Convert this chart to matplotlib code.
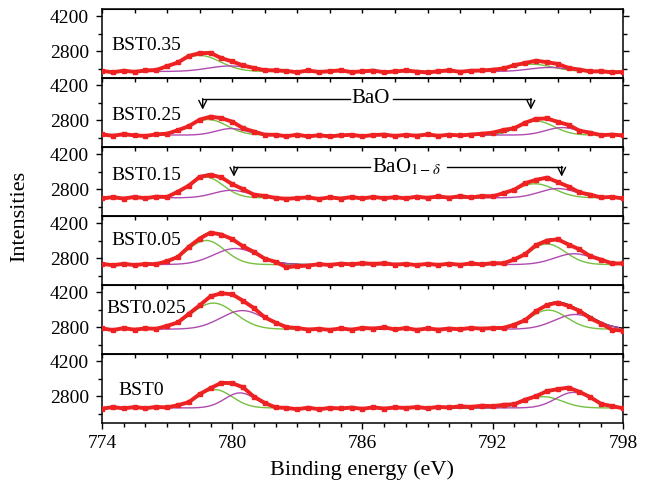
import numpy as np
import matplotlib.pyplot as plt
from matplotlib.ticker import MultipleLocator, NullFormatter

plt.rcParams['font.family'] = ['Liberation Serif', 'DejaVu Serif']
plt.rcParams['mathtext.fontset'] = 'stix'

# --- Data (Ba 3d spectra) ---
labels = ['BST0.35', 'BST0.25', 'BST0.15', 'BST0.05', 'BST0.025', 'BST0']
energy = np.arange(774, 798.01, 0.5)

counts = [
    [2010, 1960, 2020, 1975, 2030, 2050, 2200, 2350, 2610, 2720, 2730, 2520, 2390, 2230, 2130, 2040, 2035,
     2010, 1960, 2030, 1970, 2000, 2035, 1965, 1995, 2025, 1960, 1990, 2030, 1985, 1950, 2000, 2035, 1975,
     2020, 2030, 2060, 2110, 2240, 2330, 2420, 2360, 2290, 2130, 2065, 1990, 2000, 1955, 1970],
    [2230, 2180, 2240, 2195, 2170, 2235, 2260, 2400, 2560, 2820, 2940, 2880, 2740, 2480, 2345, 2220, 2215,
     2160, 2220, 2150, 2200, 2150, 2195, 2215, 2160, 2205, 2225, 2170, 2215, 2180, 2230, 2175, 2220, 2190,
     2225, 2260, 2300, 2410, 2480, 2700, 2850, 2870, 2730, 2610, 2380, 2300, 2200, 2225, 2190],
    [2430, 2480, 2425, 2490, 2440, 2500, 2490, 2700, 2940, 3290, 3370, 3270, 3000, 2800, 2580, 2530, 2450,
     2415, 2445, 2470, 2410, 2475, 2425, 2485, 2430, 2490, 2440, 2480, 2435, 2500, 2455, 2510, 2460, 2520,
     2470, 2525, 2515, 2640, 2780, 3040, 3170, 3260, 3080, 2900, 2670, 2580, 2470, 2490, 2430],
    [2570, 2520, 2575, 2525, 2570, 2560, 2680, 2850, 3250, 3580, 3820, 3740, 3560, 3270, 3050, 2780, 2650,
     2440, 2480, 2505, 2560, 2530, 2580, 2555, 2600, 2570, 2595, 2545, 2570, 2525, 2575, 2530, 2580, 2535,
     2590, 2550, 2600, 2595, 2750, 2960, 3320, 3500, 3550, 3340, 3150, 2880, 2740, 2590, 2590],
    [2750, 2685, 2760, 2700, 2750, 2735, 2850, 2990, 3330, 3670, 4030, 4150, 4110, 3850, 3560, 3190, 2980,
     2800, 2765, 2705, 2735, 2690, 2750, 2700, 2770, 2745, 2790, 2710, 2765, 2690, 2750, 2700, 2745, 2715,
     2770, 2740, 2765, 2770, 2900, 3080, 3440, 3680, 3780, 3640, 3450, 3150, 2940, 2700, 2660],
    [2305, 2360, 2315, 2365, 2320, 2370, 2350, 2440, 2560, 2880, 3120, 3330, 3320, 3150, 2780, 2530, 2350,
     2330, 2280, 2340, 2280, 2330, 2310, 2345, 2295, 2355, 2305, 2350, 2330, 2365, 2320, 2370, 2350, 2395,
     2370, 2420, 2400, 2455, 2480, 2660, 2800, 3000, 3080, 3140, 2970, 2760, 2490, 2400, 2320],
]

# fitted components: (centre eV, height, sigma eV)
baseline = [1990, 2205, 2455, 2545, 2720, 2330]
green_52 = [(778.5, 640, 0.95), (778.9, 620, 0.85), (778.8, 820, 0.78),
            (778.8, 960, 0.85), (779.13, 1040, 1.0), (779.2, 730, 0.8)]
purple_52 = [(779.9, 220, 1.0), (779.95, 260, 0.7), (779.95, 300, 0.8),
             (780.15, 640, 1.0), (780.47, 740, 1.0), (780.36, 600, 0.7)]
green_32 = [(793.8, 290, 0.95), (794.0, 560, 0.82), (793.95, 560, 0.9),
            (794.5, 820, 0.85), (794.57, 760, 0.85), (794.34, 450, 0.85)]
purple_32 = [(794.6, 160, 0.9), (795.2, 300, 0.75), (795.0, 370, 0.85),
             (795.75, 430, 0.9), (795.8, 585, 0.95), (795.72, 620, 0.8)]


def gauss(x, p):
    c, a, s = p
    return a * np.exp(-(x - c) ** 2 / (2 * s ** 2))


# --- Plotting ---
red, green, purple = '#ee2222', '#77c040', '#b04ab0'
fig = plt.figure(figsize=(6.55, 4.87), dpi=100)
gs = fig.add_gridspec(6, 1, left=0.1557, right=0.951, top=0.9815, bottom=0.1314, hspace=0)
axes = [fig.add_subplot(gs[i]) for i in range(6)]

label_pos = [(0.019, 0.47), (0.019, 0.45), (0.019, 0.585), (0.019, 0.64), (0.008, 0.66), (0.031, 0.47)]
xf = np.linspace(774, 798, 961)
win_a = (xf >= 775.5) & (xf <= 783.0)
win_b = (xf >= 791.0) & (xf <= 797.8)

for i, ax in enumerate(axes):
    b = baseline[i]
    total = b + gauss(xf, green_52[i]) + gauss(xf, purple_52[i]) + gauss(xf, green_32[i]) + gauss(xf, purple_32[i])
    ax.plot(xf, total, color='black', lw=1.0, zorder=2)
    for win, gp, pp in [(win_a, green_52[i], purple_52[i]), (win_b, green_32[i], purple_32[i])]:
        ax.plot(xf[win], b + gauss(xf[win], gp), color=green, lw=1.0, zorder=3)
        ax.plot(xf[win], b + gauss(xf[win], pp), color=purple, lw=1.0, zorder=3)
    ax.plot(energy, counts[i], color=red, lw=2.8, marker='s', ms=3.2, mec=red, zorder=4)

    ax.set_xlim(774, 798)
    ax.set_ylim(1730, 4480)
    ax.yaxis.set_major_locator(MultipleLocator(1400))
    ax.yaxis.set_minor_locator(MultipleLocator(700))
    ax.tick_params(axis='y', which='major', direction='out', length=4.5, width=1, labelsize=14, pad=5,
                   right=True)
    ax.tick_params(axis='y', which='minor', direction='out', length=3, width=1, right=True)
    for sp in ax.spines.values():
        sp.set_linewidth(1.1)

    top = ax.secondary_xaxis('top')
    top.xaxis.set_major_locator(MultipleLocator(1.5))
    top.xaxis.set_major_formatter(NullFormatter())
    top.tick_params(direction='in', length=3, width=1)

    if i < 5:
        ax.tick_params(axis='x', which='both', bottom=False, labelbottom=False)
    else:
        ax.xaxis.set_major_locator(MultipleLocator(6))
        ax.xaxis.set_minor_locator(MultipleLocator(1))
        ax.tick_params(axis='x', which='major', direction='out', length=4.5, width=1, labelsize=14, pad=4)
        ax.tick_params(axis='x', which='minor', direction='out', length=3, width=1)
        ax.set_xlabel('Binding energy (eV)', fontsize=16, labelpad=6)

    ax.text(label_pos[i][0], label_pos[i][1], labels[i], transform=ax.transAxes,
            fontsize=14, ha='left', va='center', zorder=6)

# BaO arrows
ax = axes[1]
ax.plot([778.64, 785.43], [3650, 3650], color='black', lw=1)
ax.plot([787.42, 793.76], [3650, 3650], color='black', lw=1)
ax.annotate('', xy=(778.64, 3220), xytext=(778.64, 3655),
            arrowprops=dict(arrowstyle='->', lw=1, color='black', shrinkA=0, shrinkB=0, mutation_scale=14))
ax.annotate('', xy=(793.76, 3220), xytext=(793.76, 3655),
            arrowprops=dict(arrowstyle='->', lw=1, color='black', shrinkA=0, shrinkB=0, mutation_scale=14))
ax.text(786.37, 3650, 'BaO', fontsize=15, ha='center', va='center')

ax = axes[2]
ax.plot([780.08, 786.35], [3700, 3700], color='black', lw=1)
ax.plot([789.88, 795.18], [3700, 3700], color='black', lw=1)
ax.annotate('', xy=(780.08, 3300), xytext=(780.08, 3705),
            arrowprops=dict(arrowstyle='->', lw=1, color='black', shrinkA=0, shrinkB=0, mutation_scale=14))
ax.annotate('', xy=(795.18, 3300), xytext=(795.18, 3705),
            arrowprops=dict(arrowstyle='->', lw=1, color='black', shrinkA=0, shrinkB=0, mutation_scale=14))
ax.text(788.03, 3700, r'BaO$_{1-\delta}$', fontsize=15, ha='center', va='center')

fig.text(0.03, 0.556, 'Intensities', rotation=90, fontsize=16, ha='center', va='center')

fig.savefig('out.png', dpi=100)
